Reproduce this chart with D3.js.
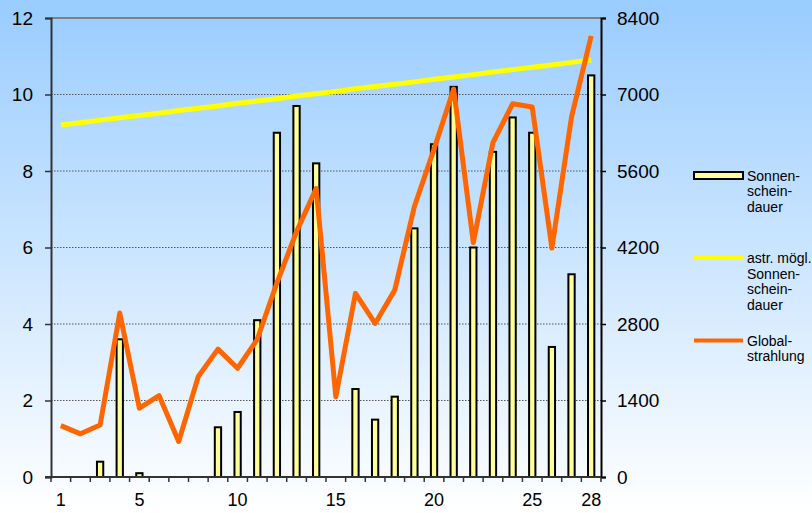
<!DOCTYPE html>
<html><head><meta charset="utf-8">
<script src="https://cdn.jsdelivr.net/npm/d3@7"></script>
<style>html,body{margin:0;padding:0;overflow:hidden;}svg{display:block;font-family:Arial,"Liberation Sans",sans-serif;}</style>
</head><body><svg id="c" width="812" height="513"></svg>
<script>
const days = d3.range(1, 29);
const sunshine = [0,0,0.4,3.6,0.1,0,0,0,1.3,1.7,4.1,9.0,9.7,8.2,0,2.3,1.5,2.1,6.5,8.7,10.2,6.0,8.5,9.4,9.0,3.4,5.3,10.5];
const possible = [9.20,9.26,9.33,9.39,9.45,9.51,9.58,9.64,9.70,9.77,9.83,9.89,9.96,10.02,10.08,10.15,10.21,10.27,10.33,10.40,10.46,10.52,10.59,10.65,10.71,10.77,10.84,10.90];
const globalRad = [940,790,950,3000,1260,1490,650,1840,2340,1990,2520,3550,4490,5280,1470,3360,2810,3420,4950,6000,7100,4290,6120,6830,6770,4190,6590,8070];
const leftTicks = [0,2,4,6,8,10,12];
const rightTicks = [0,1400,2800,4200,5600,7000,8400];
const xLabels = [1,5,10,15,20,25,28];
const legendItems = [
  {key:"bar", lines:["Sonnen-","schein-","dauer"]},
  {key:"possible", lines:["astr. mögl.","Sonnen-","schein-","dauer"]},
  {key:"global", lines:["Global-","strahlung"]}
];

const svg = d3.select("#c");
const L = 51, R = 601, T = 18, B = 477;

const defs = svg.append("defs");
const grad = defs.append("linearGradient").attr("id","bg").attr("x1",0).attr("y1",0).attr("x2",0).attr("y2",1);
grad.append("stop").attr("offset","0%").attr("stop-color","#99CCFF");
grad.append("stop").attr("offset","100%").attr("stop-color","#FFFFFF");
svg.append("rect").attr("width",812).attr("height",513).attr("fill","url(#bg)");

const x = d3.scaleBand().domain(days).range([L, R]);
const yL = d3.scaleLinear().domain([0,12]).range([B, T]);
const yR = d3.scaleLinear().domain([0,8400]).range([B, T]);

// gridlines
svg.append("g").selectAll("line").data(leftTicks.filter(d=>d>0 && d<12)).join("line")
  .attr("x1",L).attr("x2",R).attr("y1",d=>yL(d)).attr("y2",d=>yL(d))
  .attr("stroke","#555").attr("stroke-width",1).attr("stroke-dasharray","1.5,1.5");
// top border
svg.append("line").attr("x1",L).attr("x2",R).attr("y1",T).attr("y2",T).attr("stroke","#808080").attr("stroke-width",2);

// bars
const bw = 6.3;
svg.append("g").selectAll("rect").data(days.filter((d,i)=>sunshine[i]>0)).join("rect")
  .attr("x",d=>x(d)+x.bandwidth()/2-bw/2)
  .attr("y",d=>yL(sunshine[d-1]))
  .attr("width",bw)
  .attr("height",d=>B-yL(sunshine[d-1]))
  .attr("fill","#FFFF99").attr("stroke","#000").attr("stroke-width",2);

const cx = d=>x(d)+x.bandwidth()/2;
svg.append("path").datum(days)
  .attr("d", d3.line().x(cx).y(d=>yL(possible[d-1])))
  .attr("fill","none").attr("stroke","#FFFF00").attr("stroke-width",5);
svg.append("path").datum(days)
  .attr("d", d3.line().x(cx).y(d=>yR(globalRad[d-1])))
  .attr("fill","none").attr("stroke","#FF6600").attr("stroke-width",5).attr("stroke-linejoin","round");

// left axis
const gL = svg.append("g").attr("transform",`translate(${L},0)`)
  .call(d3.axisLeft(yL).tickValues(leftTicks).tickSize(6).tickPadding(12));
gL.select(".domain").attr("stroke","#333").attr("stroke-width",2);
gL.selectAll(".tick line").attr("stroke","#333").attr("stroke-width",1.5);
gL.selectAll("text").attr("font-size",19).attr("fill","#000").attr("font-family","Arial, 'Liberation Sans', sans-serif");

// right axis
const gR = svg.append("g").attr("transform",`translate(${R},0)`)
  .call(d3.axisRight(yR).tickValues(rightTicks).tickFormat(d3.format("d")).tickSize(5).tickPadding(11));
gR.select(".domain").attr("stroke","#000").attr("stroke-width",2);
gR.selectAll(".tick line").attr("stroke","#000").attr("stroke-width",1.5);
gR.selectAll("text").attr("font-size",19).attr("fill","#000").attr("font-family","Arial, 'Liberation Sans', sans-serif");

// bottom axis
const gB = svg.append("g").attr("transform",`translate(0,${B})`);
gB.append("line").attr("x1",L-6).attr("x2",R).attr("stroke","#333").attr("stroke-width",2);
gB.selectAll(".tk").data(d3.range(0,29)).join("line").attr("class","tk")
  .attr("x1",i=>L+i*x.step()).attr("x2",i=>L+i*x.step()).attr("y1",0).attr("y2",5)
  .attr("stroke","#333").attr("stroke-width",1.5);
gB.selectAll("text").data(xLabels).join("text")
  .attr("x",d=>cx(d)).attr("y",29).attr("text-anchor","middle")
  .attr("font-size",18).attr("fill","#000").text(d=>d);

// legend
const lg = svg.append("g");
const lx = 694, lw = 49, tx = 747;
const ys = [175.5, 258, 340.5];
legendItems.forEach((it,i)=>{
  const y0 = ys[i];
  if (it.key==="bar") {
    lg.append("rect").attr("x",lx).attr("y",y0-3.5).attr("width",lw).attr("height",7)
      .attr("fill","#FFFF99").attr("stroke","#000").attr("stroke-width",2);
  } else {
    lg.append("line").attr("x1",lx).attr("x2",lx+lw).attr("y1",y0).attr("y2",y0)
      .attr("stroke", it.key==="possible" ? "#FFFF00" : "#FF6600").attr("stroke-width",4);
  }
  const t = lg.append("text").attr("x",tx).attr("y",y0+5).attr("font-size",14).attr("fill","#000");
  it.lines.forEach((s,j)=>{
    t.append("tspan").attr("x",tx).attr("dy", j===0?0:15.5).text(s);
  });
});
</script>
</body></html>
